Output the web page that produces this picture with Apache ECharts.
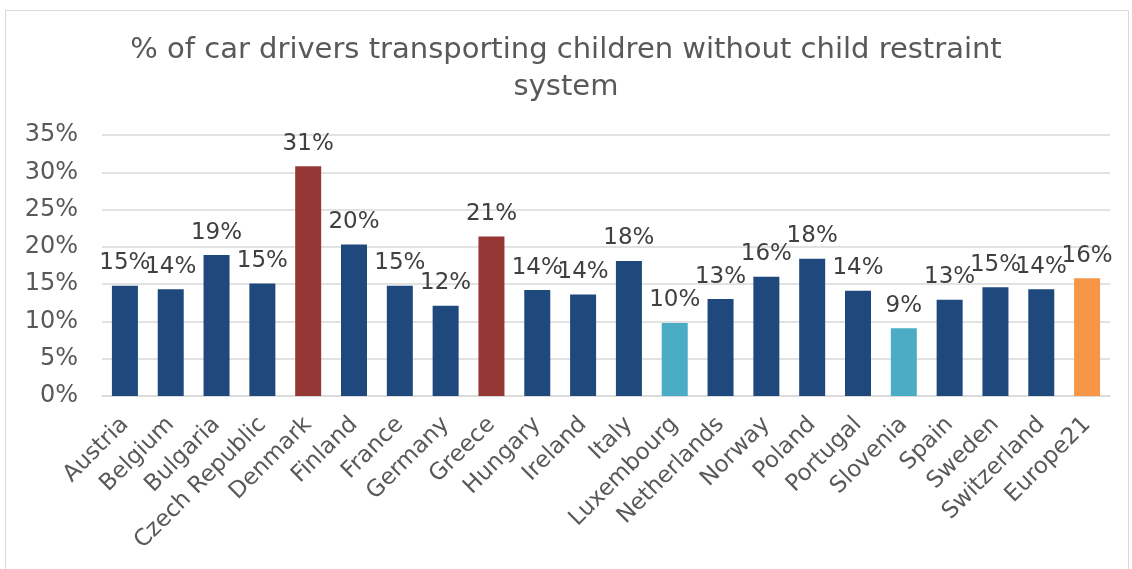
<!DOCTYPE html>
<html>
<head>
<meta charset="utf-8">
<script src="https://cdn.jsdelivr.net/npm/echarts@6/dist/echarts.min.js"></script>
<style>
  html, body { margin: 0; padding: 0; background: #fff; }
  #frame { position: absolute; left: 5px; top: 10px; width: 1124px; height: 560px; border: 1px solid #d9d9d9; box-sizing: border-box; }
  #chart { position: absolute; left: 0; top: 0; width: 1132px; height: 569px; }
</style>
</head>
<body>
<div id="frame"></div>
<div id="chart"></div>
<script>
const countries = ['Austria', 'Belgium', 'Bulgaria', 'Czech Republic', 'Denmark', 'Finland', 'France',
  'Germany', 'Greece', 'Hungary', 'Ireland', 'Italy', 'Luxembourg', 'Netherlands', 'Norway',
  'Poland', 'Portugal', 'Slovenia', 'Spain', 'Sweden', 'Switzerland', 'Europe21'];
const shares = [0.148, 0.143, 0.189, 0.151, 0.308, 0.203, 0.148, 0.121, 0.214, 0.142, 0.136,
  0.181, 0.098, 0.130, 0.160, 0.184, 0.141, 0.091, 0.129, 0.146, 0.143, 0.158];
// colour group per bar: 0 normal, 1 high, 2 low, 3 average
const groups = [0, 0, 0, 0, 1, 0, 0, 0, 1, 0, 0, 0, 2, 0, 0, 0, 0, 2, 0, 0, 0, 3];
const groupColors = ['#1F497D', '#953735', '#4BACC6', '#F79646'];
const yTicks = [0, 0.05, 0.1, 0.15, 0.2, 0.25, 0.3, 0.35];

const font = 'DejaVu Sans';
const chart = echarts.init(document.getElementById('chart'));
chart.setOption({
  animation: false,
  title: {
    text: '% of car drivers transporting children without child restraint\nsystem',
    left: 'center',
    top: 27,
    textStyle: { fontFamily: font, fontSize: 29, fontWeight: 'normal', color: '#595959', lineHeight: 37 }
  },
  grid: { left: 102, right: 22, top: 135, bottom: 173 },
  xAxis: {
    type: 'category',
    data: countries,
    axisLine: { lineStyle: { color: '#d9d9d9', width: 1.5 } },
    axisTick: { show: false },
    axisLabel: { rotate: 45, interval: 0, margin: 25, fontFamily: font, fontSize: 23, color: '#595959' }
  },
  yAxis: {
    type: 'value',
    min: 0,
    max: yTicks[yTicks.length - 1],
    interval: 0.05,
    axisLine: { show: false },
    axisTick: { show: false },
    splitLine: { lineStyle: { color: '#d9d9d9', width: 1.5 } },
    axisLabel: {
      margin: 24, fontFamily: font, fontSize: 24, color: '#595959',
      formatter: v => Math.round(v * 100) + '%'
    }
  },
  series: [{
    type: 'bar',
    barWidth: 26,
    data: shares.map((v, i) => ({ value: v, itemStyle: { color: groupColors[groups[i]] } })),
    label: {
      show: true,
      position: 'top',
      distance: 11,
      fontFamily: font,
      fontSize: 23,
      color: '#404040',
      formatter: p => Math.round(p.value * 100) + '%'
    }
  }]
});
</script>
</body>
</html>
